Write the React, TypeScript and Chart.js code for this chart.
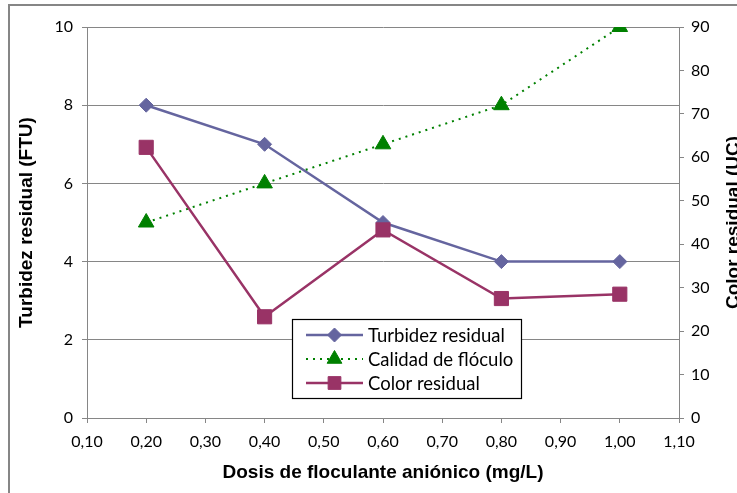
import React, { useEffect, useRef } from 'react';
import { Chart, registerables } from 'chart.js';

Chart.register(...registerables);

// ---- data ----
const doses = [0.2, 0.4, 0.6, 0.8, 1.0];
const turbidez = [8, 7, 5, 4, 4];
const calidad = [45, 54, 63, 72, 90];
const colorResidual = [62.3, 23.3, 43.3, 27.5, 28.5];
const xTicks = [0.1, 0.2, 0.3, 0.4, 0.5, 0.6, 0.7, 0.8, 0.9, 1.0, 1.1];
const yLeftTicks = [0, 2, 4, 6, 8, 10];
const yRightTicks = [0, 10, 20, 30, 40, 50, 60, 70, 80, 90];
const seriesNames = ['Turbidez residual', 'Calidad de flóculo', 'Color residual'];

const FONT = "Lato, 'Noto Sans', sans-serif";
const TITLE_FONT = "'Liberation Sans', Arial, sans-serif";
const GRID = '#868686';
const C_TURB = '#65659F';
const C_CAL = '#008000';
const C_COL = '#993366';

function drawMarker(ctx: CanvasRenderingContext2D, style: string, x: number, y: number, r: number, fill: string) {
  ctx.save();
  ctx.setLineDash([]);
  ctx.fillStyle = fill;
  ctx.strokeStyle = fill;
  ctx.lineWidth = 1;
  ctx.beginPath();
  if (style === 'rectRot') {
    ctx.moveTo(x - r, y);
    ctx.lineTo(x, y - r);
    ctx.lineTo(x + r, y);
    ctx.lineTo(x, y + r);
  } else if (style === 'rect') {
    const s = Math.SQRT1_2 * r;
    ctx.rect(x - s, y - s, 2 * s, 2 * s);
  } else {
    const h = r * Math.sqrt(3) / 2;
    ctx.moveTo(x, y - r);
    ctx.lineTo(x + h, y + r / 2);
    ctx.lineTo(x - h, y + r / 2);
  }
  ctx.closePath();
  ctx.fill();
  ctx.stroke();
  ctx.restore();
}

const decorPlugin = {
  id: 'decor',
  afterDraw(chart: any) {
    const ctx: CanvasRenderingContext2D = chart.ctx;
    ctx.save();
    // outer chart border
    ctx.strokeStyle = GRID;
    ctx.lineWidth = 2;
    ctx.strokeRect(9, 5, 900, 700);

    // right axis title (reads bottom to top)
    const ca = chart.chartArea;
    ctx.save();
    ctx.translate(734, (ca.top + ca.bottom) / 2);
    ctx.rotate(-Math.PI / 2);
    ctx.fillStyle = '#000';
    ctx.font = `bold 19px ${TITLE_FONT}`;
    ctx.textAlign = 'center';
    ctx.textBaseline = 'middle';
    ctx.fillText('Color residual (UC)', 0, 0);
    ctx.restore();

    // legend
    const bx = 292, by = 319, bw = 229, bh = 79;
    ctx.fillStyle = '#fff';
    ctx.fillRect(bx, by, bw, bh);
    ctx.strokeStyle = '#000';
    ctx.lineWidth = 1.2;
    ctx.strokeRect(bx + 0.5, by + 0.5, bw, bh);
    const styles = [
      { c: C_TURB, dash: [] as number[], w: 2.5, p: 'rectRot', r: 7 },
      { c: C_CAL, dash: [2, 5], w: 2, p: 'triangle', r: 8.5 },
      { c: C_COL, dash: [] as number[], w: 2.5, p: 'rect', r: 9 },
    ];
    styles.forEach((s, i) => {
      const y = 335 + i * 24;
      ctx.save();
      ctx.strokeStyle = s.c;
      ctx.lineWidth = s.w;
      ctx.setLineDash(s.dash);
      ctx.beginPath();
      ctx.moveTo(306, y);
      ctx.lineTo(363, y);
      ctx.stroke();
      ctx.restore();
      drawMarker(ctx, s.p, 334.5, y, s.r, s.c);
      ctx.fillStyle = '#000';
      ctx.font = `18.5px ${FONT}`;
      ctx.textAlign = 'left';
      ctx.textBaseline = 'middle';
      ctx.fillText(seriesNames[i], 368, y + 1);
    });
    ctx.restore();
  },
};

export default function App() {
  const ref = useRef<HTMLCanvasElement | null>(null);
  useEffect(() => {
    if (!ref.current) return;
    const tickFont = { family: FONT, size: 16 };
    const titleFont = { family: TITLE_FONT, size: 19, weight: 'bold' as const };
    const chart = new Chart(ref.current, {
      type: 'line',
      data: {
        datasets: [
          {
            label: seriesNames[0],
            data: doses.map((d, i) => ({ x: d, y: turbidez[i] })),
            yAxisID: 'y',
            borderColor: C_TURB,
            backgroundColor: C_TURB,
            borderWidth: 2.5,
            pointStyle: 'rectRot',
            pointRadius: 7,
            pointBorderWidth: 1,
            order: 3,
          },
          {
            label: seriesNames[1],
            data: doses.map((d, i) => ({ x: d, y: calidad[i] })),
            yAxisID: 'y2',
            borderColor: C_CAL,
            backgroundColor: C_CAL,
            borderWidth: 2,
            borderDash: [2, 5],
            pointStyle: 'triangle',
            pointRadius: 9,
            pointBorderWidth: 1,
            order: 2,
          },
          {
            label: seriesNames[2],
            data: doses.map((d, i) => ({ x: d, y: colorResidual[i] })),
            yAxisID: 'y2',
            borderColor: C_COL,
            backgroundColor: C_COL,
            borderWidth: 2.5,
            pointStyle: 'rect',
            pointRadius: 10,
            pointBorderWidth: 1,
            order: 1,
          },
        ],
      },
      options: {
        animation: false,
        responsive: false,
        layout: { padding: { top: 27, left: 0, right: 0, bottom: 0 } },
        plugins: { legend: { display: false }, tooltip: { enabled: false } },
        scales: {
          x: {
            type: 'linear',
            min: 0.1,
            max: 1.1,
            afterBuildTicks: (s: any) => { s.ticks = xTicks.map((v) => ({ value: v })); },
            afterFit: (s: any) => { s.height = 75; },
            grid: { drawOnChartArea: false, drawTicks: true, tickLength: 5, color: GRID },
            border: { color: GRID },
            ticks: {
              callback: (v: any) => Number(v).toFixed(2).replace('.', ','),
              font: tickFont,
              color: '#000',
              padding: 9,
              maxRotation: 0,
              autoSkip: false,
            },
            title: {
              display: true,
              text: 'Dosis de floculante aniónico (mg/L)',
              font: titleFont,
              color: '#000',
              padding: { top: 0, bottom: 9 },
            },
          },
          y: {
            position: 'left',
            min: 0,
            max: 10,
            afterBuildTicks: (s: any) => { s.ticks = yLeftTicks.map((v) => ({ value: v })); },
            afterFit: (s: any) => { s.width = 87; },
            grid: { color: GRID, tickLength: 5 },
            border: { color: GRID },
            ticks: { font: tickFont, color: '#000', padding: 9 },
            title: {
              display: true,
              text: 'Turbidez residual (FTU)',
              font: titleFont,
              color: '#000',
              padding: { top: 15, bottom: 0 },
            },
          },
          y2: {
            position: 'right',
            min: 0,
            max: 90,
            afterBuildTicks: (s: any) => { s.ticks = yRightTicks.map((v) => ({ value: v })); },
            afterFit: (s: any) => { s.width = 81; },
            grid: { drawOnChartArea: false, tickLength: 5, color: GRID },
            border: { color: GRID },
            ticks: { font: tickFont, color: '#000', padding: 7 },
          },
        },
      },
      plugins: [decorPlugin],
    });
    return () => chart.destroy();
  }, []);

  return (
    <div style={{ position: 'absolute', left: 0, top: 0, width: 737, height: 493, overflow: 'hidden', background: '#fff' }}>
      <canvas ref={ref} width={760} height={493} style={{ display: 'block' }} />
    </div>
  );
}
